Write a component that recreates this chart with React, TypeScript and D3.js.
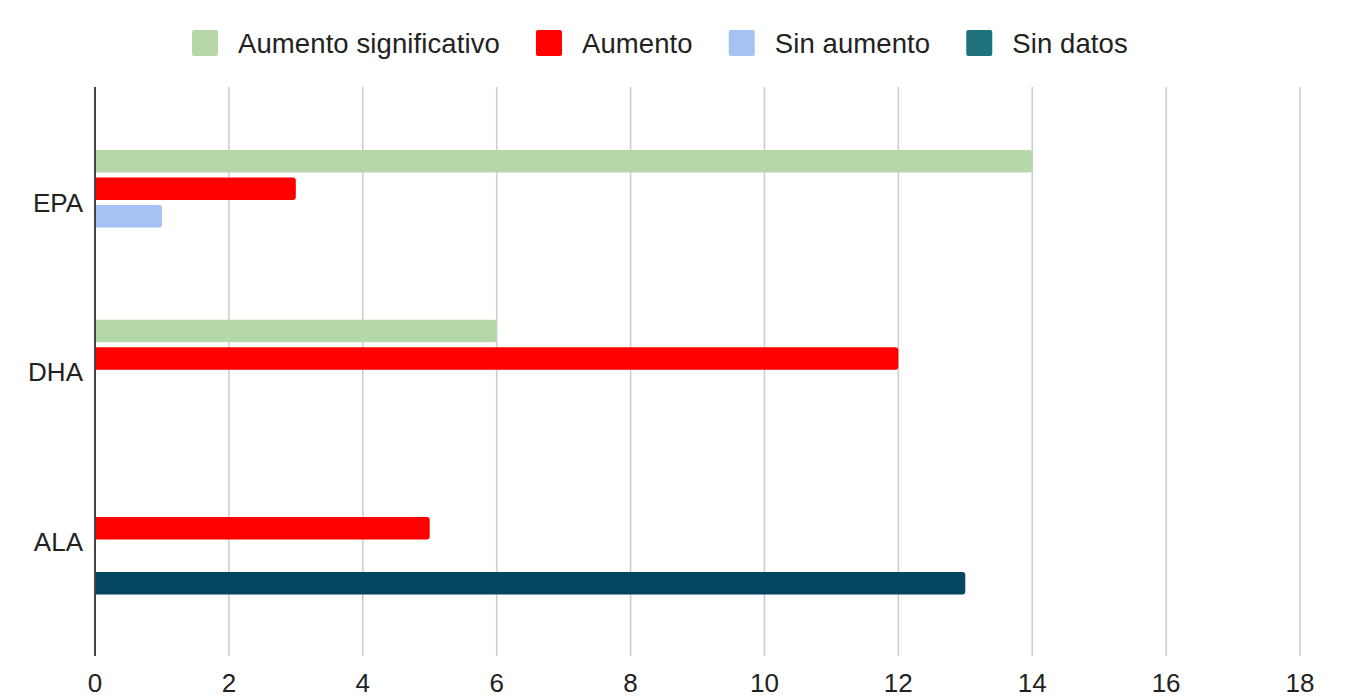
import React, { useEffect, useRef } from "react";
import * as d3 from "d3";

// categories (top to bottom) and series
const categories = ["EPA", "DHA", "ALA"];
const seriesNames = ["Aumento significativo", "Aumento", "Sin aumento", "Sin datos"];
const seriesColors = ["#b6d7a8", "#ff0000", "#a4c2f4", "#04455f"];
const legendColors = ["#b6d7a8", "#ff0000", "#a4c2f4", "#1d727e"];

// values per series, in category order
const aumentoSignificativo = [14, 6, 0];
const aumento = [3, 12, 5];
const sinAumento = [1, 0, 0];
const sinDatos = [0, 0, 13];
const seriesValues = [aumentoSignificativo, aumento, sinAumento, sinDatos];

const xTicks = [0, 2, 4, 6, 8, 10, 12, 14, 16, 18];

const W = 1351;
const H = 697;
const FONT = "'Liberation Sans', Arial, sans-serif";

const App = () => {
  const svgRef = useRef<SVGSVGElement | null>(null);

  useEffect(() => {
    if (!svgRef.current) return;
    const svg = d3.select(svgRef.current);
    svg.selectAll("*").remove();

    const plotTop = 87;
    const plotBottom = 656;

    const x = d3.scaleLinear().domain([0, 18]).range([95, 1300]);
    const y0 = d3
      .scaleBand<string>()
      .domain(categories)
      .range([117.6, 626.9])
      .paddingInner(0.3814)
      .paddingOuter(0.1907);
    const y1 = d3
      .scaleBand<string>()
      .domain(seriesNames)
      .range([0, y0.bandwidth()])
      .paddingInner(0.18)
      .paddingOuter(0);

    // gridlines
    svg
      .append("g")
      .selectAll("line")
      .data(xTicks.filter((t) => t !== 0))
      .enter()
      .append("line")
      .attr("x1", (d) => x(d))
      .attr("x2", (d) => x(d))
      .attr("y1", plotTop)
      .attr("y2", plotBottom)
      .attr("stroke", "#cccccc")
      .attr("stroke-width", 1.5);

    // bars
    const rowData = categories.map((c, i) => ({
      cat: c,
      vals: seriesNames.map((s, j) => ({ s, j, v: seriesValues[j][i] })),
    }));

    const groups = svg
      .append("g")
      .selectAll("g")
      .data(rowData)
      .enter()
      .append("g")
      .attr("transform", (d) => `translate(0,${y0(d.cat)})`);

    const r = 3;
    groups
      .selectAll("path")
      .data((d) => d.vals.filter((v) => v.v > 0))
      .enter()
      .append("path")
      .attr("fill", (d) => seriesColors[d.j])
      .attr("d", (d) => {
        const x0 = x(0);
        const x1 = x(d.v);
        const yt = y1(d.s) as number;
        const h = y1.bandwidth();
        const p = d3.path();
        p.moveTo(x0, yt);
        p.lineTo(x1 - r, yt);
        p.quadraticCurveTo(x1, yt, x1, yt + r);
        p.lineTo(x1, yt + h - r);
        p.quadraticCurveTo(x1, yt + h, x1 - r, yt + h);
        p.lineTo(x0, yt + h);
        p.closePath();
        return p.toString();
      });

    // baseline axis
    svg
      .append("line")
      .attr("x1", x(0))
      .attr("x2", x(0))
      .attr("y1", plotTop)
      .attr("y2", plotBottom)
      .attr("stroke", "#444444")
      .attr("stroke-width", 2);

    // x tick labels
    svg
      .append("g")
      .selectAll("text")
      .data(xTicks)
      .enter()
      .append("text")
      .attr("x", (d) => x(d))
      .attr("y", 692)
      .attr("text-anchor", "middle")
      .attr("font-family", FONT)
      .attr("font-size", 26)
      .attr("fill", "#222222")
      .text((d) => String(d));

    // category labels
    svg
      .append("g")
      .selectAll("text")
      .data(categories)
      .enter()
      .append("text")
      .attr("x", 83)
      .attr("y", (d) => (y0(d) as number) + y0.bandwidth() / 2)
      .attr("dy", "0.35em")
      .attr("text-anchor", "end")
      .attr("font-family", FONT)
      .attr("font-size", 26)
      .attr("fill", "#222222")
      .text((d) => d);

    // legend
    const legend = svg.append("g");
    let lx = 192;
    seriesNames.forEach((name, i) => {
      legend
        .append("rect")
        .attr("x", lx)
        .attr("y", 30)
        .attr("width", 26)
        .attr("height", 26)
        .attr("rx", 2)
        .attr("fill", legendColors[i]);
      const t = legend
        .append("text")
        .attr("x", lx + 46)
        .attr("y", 53)
        .attr("font-family", FONT)
        .attr("font-size", 27.5)
        .attr("letter-spacing", 0.1)
        .attr("fill", "#222222")
        .text(name);
      const w = (t.node() as SVGTextElement).getComputedTextLength();
      lx += 46 + w + 36;
    });
  }, []);

  return (
    <div style={{ position: "absolute", left: 0, top: 0 }}>
      <svg ref={svgRef} width={W} height={H} style={{ display: "block", background: "#ffffff" }} />
    </div>
  );
};

export default App;
